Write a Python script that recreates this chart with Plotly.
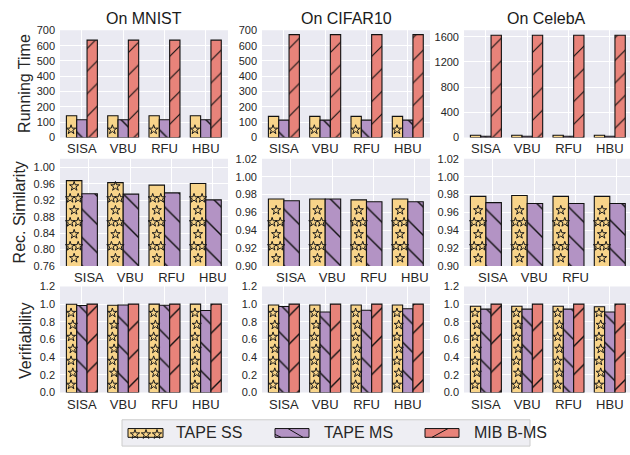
import numpy as np
import plotly.graph_objects as go

# ---------------- data ----------------
methods = ["SISA", "VBU", "RFU", "HBU"]
dataset_titles = ["On MNIST", "On CIFAR10", "On CelebA"]
metric_titles = ["Running Time", "Rec. Similarity", "Verifiability"]
series_names = ["TAPE SS", "TAPE MS", "MIB B-MS"]

# running time
rt_mnist_ss = [142, 142, 142, 142]
rt_mnist_ms = [116, 116, 116, 116]
rt_mnist_mib = [636, 636, 636, 636]
rt_cifar_ss = [138, 138, 138, 138]
rt_cifar_ms = [113, 113, 113, 113]
rt_cifar_mib = [672, 672, 672, 672]
rt_celeba_ss = [35, 35, 35, 35]
rt_celeba_ms = [20, 20, 20, 20]
rt_celeba_mib = [1623, 1623, 1623, 1623]

# reconstruction similarity (MIB has no reconstruction)
rs_mnist_ss = [0.968, 0.963, 0.957, 0.961]
rs_mnist_ms = [0.936, 0.935, 0.938, 0.921]
rs_cifar_ss = [0.975, 0.975, 0.974, 0.975]
rs_cifar_ms = [0.973, 0.975, 0.972, 0.972]
rs_celeba_ss = [0.978, 0.979, 0.978, 0.978]
rs_celeba_ms = [0.971, 0.970, 0.970, 0.970]

# verifiability
vf_mnist_ss = [0.998, 0.987, 1.0, 1.0]
vf_mnist_ms = [0.984, 0.99, 0.987, 0.928]
vf_mnist_mib = [1.0, 1.0, 1.0, 1.0]
vf_cifar_ss = [0.99, 0.99, 0.99, 0.99]
vf_cifar_ms = [0.972, 0.91, 0.93, 0.948]
vf_cifar_mib = [1.0, 1.0, 1.0, 1.0]
vf_celeba_ss = [0.976, 0.976, 0.976, 0.97]
vf_celeba_ms = [0.943, 0.943, 0.943, 0.91]
vf_celeba_mib = [1.0, 1.0, 1.0, 1.0]

panels = [
    [[rt_mnist_ss, rt_mnist_ms, rt_mnist_mib],
     [rt_cifar_ss, rt_cifar_ms, rt_cifar_mib],
     [rt_celeba_ss, rt_celeba_ms, rt_celeba_mib]],
    [[rs_mnist_ss, rs_mnist_ms],
     [rs_cifar_ss, rs_cifar_ms],
     [rs_celeba_ss, rs_celeba_ms]],
    [[vf_mnist_ss, vf_mnist_ms, vf_mnist_mib],
     [vf_cifar_ss, vf_cifar_ms, vf_cifar_mib],
     [vf_celeba_ss, vf_celeba_ms, vf_celeba_mib]],
]

y_ranges = [
    [(0, 700, 100, "d"), (0, 700, 100, "d"), (0, 1700, 400, "d")],
    [(0.76, 1.021, 0.04, ".2f"), (0.90, 1.02, 0.02, ".2f"), (0.90, 1.02, 0.02, ".2f")],
    [(0, 1.2, 0.2, ".1f"), (0, 1.2, 0.2, ".1f"), (0, 1.2, 0.2, ".1f")],
]

# ---------------- style ----------------
W, H = 630, 455
FONT = "Liberation Sans, Arial, sans-serif"
TXT = "#262626"
BG = "#EAEAF2"
colors = ["#F8D48A", "#B393C4", "#E8837A"]
hatch = [None, "\\", "/"]

col_px = [(60, 228), (262, 430), (464, 630)]
row_px = [(25, 135), (157, 267), (288, 397)]
UNIT_PX = 41.3  # pixels per category step
X_LEFT = -0.53

fig = go.Figure()
layout_axes = {}
shapes = []
annotations = []


def ax_name(k, letter):
    return letter if k == 1 else f"{letter}{k}"


def add_stars(xc, width_units, top, ymin, yspan_per_px, width_px, xa, ya):
    """Star hatch drawn as open star markers stacked inside a bar."""
    xs, ys = [], []
    step = 12.3 * yspan_per_px
    y = ymin + 8.0 * yspan_per_px
    k = 0
    while y <= top - 3.5 * yspan_per_px:
        if width_px > 13:
            if k % 2 == 0:
                xs.append(xc)
                ys.append(y)
            else:
                for s in (-1, 1):
                    xs.append(xc + s * 0.26 * width_units)
                    ys.append(y)
        else:
            xs.append(xc + (0.12 if k % 2 else -0.05) * width_units)
            ys.append(y)
        y += step
        k += 1
    if xs:
        fig.add_trace(go.Scatter(
            x=xs, y=ys, mode="markers", xaxis=xa, yaxis=ya,
            marker=dict(symbol="star-open", size=7, color="#1a1a1a",
                        line=dict(width=1, color="#1a1a1a")),
            showlegend=False, hoverinfo="skip"))


idx = np.arange(len(methods))
for r in range(3):
    for c in range(3):
        k = r * 3 + c + 1
        xa, ya = ax_name(k, "x"), ax_name(k, "y")
        x0p, x1p = col_px[c]
        y0p, y1p = row_px[r]
        x_right = X_LEFT + (x1p - x0p) / UNIT_PX
        ymin, ymax, dt, fmt = y_ranges[r][c]
        yspan_per_px = (ymax - ymin) / (y1p - y0p)

        series = panels[r][c]
        n = len(series)
        bw = 0.25 if n == 3 else 0.375
        offsets = [(i - (n - 1) / 2) * bw for i in range(n)]
        pat_size = {0: 16, 1: 20, 2: 20}[r]

        for i, vals in enumerate(series):
            xs = idx + offsets[i]
            pattern = None
            if hatch[i]:
                pattern = dict(shape=hatch[i], fgcolor="#111111", fgopacity=1,
                               size=pat_size if i == 2 else 20, solidity=0.07)
            fig.add_trace(go.Bar(
                x=xs, y=vals, width=bw, xaxis=xa, yaxis=ya,
                marker=dict(color=colors[i], line=dict(color="#111111", width=1.1),
                            pattern=pattern),
                name=series_names[i], showlegend=False, hoverinfo="skip"))
            if i == 0:
                for xc, v in zip(xs, vals):
                    add_stars(xc, bw, min(v, ymax), ymin, yspan_per_px,
                              bw * UNIT_PX, xa, ya)

        tick_shift = 0.17 if r == 1 else 0.0
        tickvals_y = list(np.round(np.arange(ymin, ymax + 1e-9, dt), 4))
        layout_axes["xaxis" + ("" if k == 1 else str(k))] = dict(
            domain=[x0p / W, x1p / W], anchor=ya, range=[X_LEFT, x_right],
            tickvals=list(idx + tick_shift), ticktext=methods,
            tickfont=dict(size=13, color=TXT, family=FONT),
            showgrid=True, gridcolor="white", gridwidth=1.2,
            zeroline=False, showline=False, ticks="", ticklabelstandoff=2)
        layout_axes["yaxis" + ("" if k == 1 else str(k))] = dict(
            domain=[1 - y1p / H, 1 - y0p / H], anchor=xa, range=[ymin, ymax],
            tickvals=tickvals_y, tickformat=fmt,
            tickfont=dict(size=11, color=TXT, family=FONT),
            showgrid=True, gridcolor="white", gridwidth=1.2,
            zeroline=False, showline=False, ticks="", ticklabelstandoff=4)
        shapes.append(dict(type="rect", xref=f"{xa} domain", yref=f"{ya} domain",
                           x0=0, x1=1, y0=0, y1=1, fillcolor=BG,
                           line=dict(width=0), layer="below"))

# column titles
for c, t in enumerate(dataset_titles):
    annotations.append(dict(text=t, x=(col_px[c][0] + col_px[c][1]) / 2 / W
                            if c < 2 else (col_px[c][0] + 628) / 2 / W,
                            y=1 - 13 / H, xref="paper", yref="paper",
                            showarrow=False, xanchor="center", yanchor="middle",
                            font=dict(size=16, color="#1a1a1a", family=FONT)))
# row titles
ylab_pos = [(25, 80), (19, 212), (26, 344)]
for r, t in enumerate(metric_titles):
    annotations.append(dict(text=t, x=ylab_pos[r][0] / W, y=1 - ylab_pos[r][1] / H,
                            xref="paper", yref="paper", textangle=-90,
                            showarrow=False, xanchor="center", yanchor="middle",
                            font=dict(size=16, color=TXT, family=FONT)))

# ---------------- legend ----------------
def px(x):
    return x / W


def py(y):
    return 1 - y / H


shapes.append(dict(type="rect", xref="paper", yref="paper",
                   x0=px(122), x1=px(530), y0=py(452), y1=py(425),
                   fillcolor="#EEEEF3", line=dict(color="#CCCCCC", width=1),
                   layer="below"))
sw_y0, sw_y1 = 434, 443
sw_x = [(128, 163), (275, 309), (425, 459)]
txt_x = [174, 322, 472]
for i, name in enumerate(series_names):
    a, b = sw_x[i]
    shapes.append(dict(type="rect", xref="paper", yref="paper",
                       x0=px(a), x1=px(b), y0=py(sw_y1), y1=py(sw_y0),
                       fillcolor=colors[i], line=dict(color="#111111", width=1),
                       layer="below"))
    annotations.append(dict(text=name, x=px(txt_x[i]), y=py(438.5), xref="paper",
                            yref="paper", showarrow=False, xanchor="left",
                            yanchor="middle",
                            font=dict(size=16, color=TXT, family=FONT)))
# swatch hatching
shapes.append(dict(type="line", xref="paper", yref="paper",
                   x0=px(288), y0=py(sw_y0), x1=px(303), y1=py(sw_y1),
                   line=dict(color="#111111", width=1), layer="below"))
shapes.append(dict(type="line", xref="paper", yref="paper",
                   x0=px(275), y0=py(440), x1=px(281), y1=py(sw_y1),
                   line=dict(color="#111111", width=1), layer="below"))
shapes.append(dict(type="line", xref="paper", yref="paper",
                   x0=px(432), y0=py(sw_y1), x1=px(448), y1=py(sw_y0),
                   line=dict(color="#111111", width=1), layer="below"))
# star hatching on the TAPE SS swatch, drawn on a pixel-space overlay axis
layout_axes["xaxis10"] = dict(domain=[0, 1], range=[0, W], visible=False,
                              anchor="y10", fixedrange=True)
layout_axes["yaxis10"] = dict(domain=[0, 1], range=[H, 0], visible=False,
                              anchor="x10", fixedrange=True)
fig.add_trace(go.Scatter(
    x=[135, 146, 157], y=[440, 440, 440], xaxis="x10", yaxis="y10",
    mode="markers", marker=dict(symbol="star-open", size=7, color="#1a1a1a",
                                line=dict(width=1, color="#1a1a1a")),
    showlegend=False, hoverinfo="skip"))

fig.update_layout(
    width=W, height=H, margin=dict(l=0, r=0, t=0, b=0),
    paper_bgcolor="white", plot_bgcolor="rgba(0,0,0,0)",
    barmode="overlay", showlegend=False,
    font=dict(family=FONT, color=TXT),
    shapes=shapes, annotations=annotations, **layout_axes)

fig.write_html("out.html")
